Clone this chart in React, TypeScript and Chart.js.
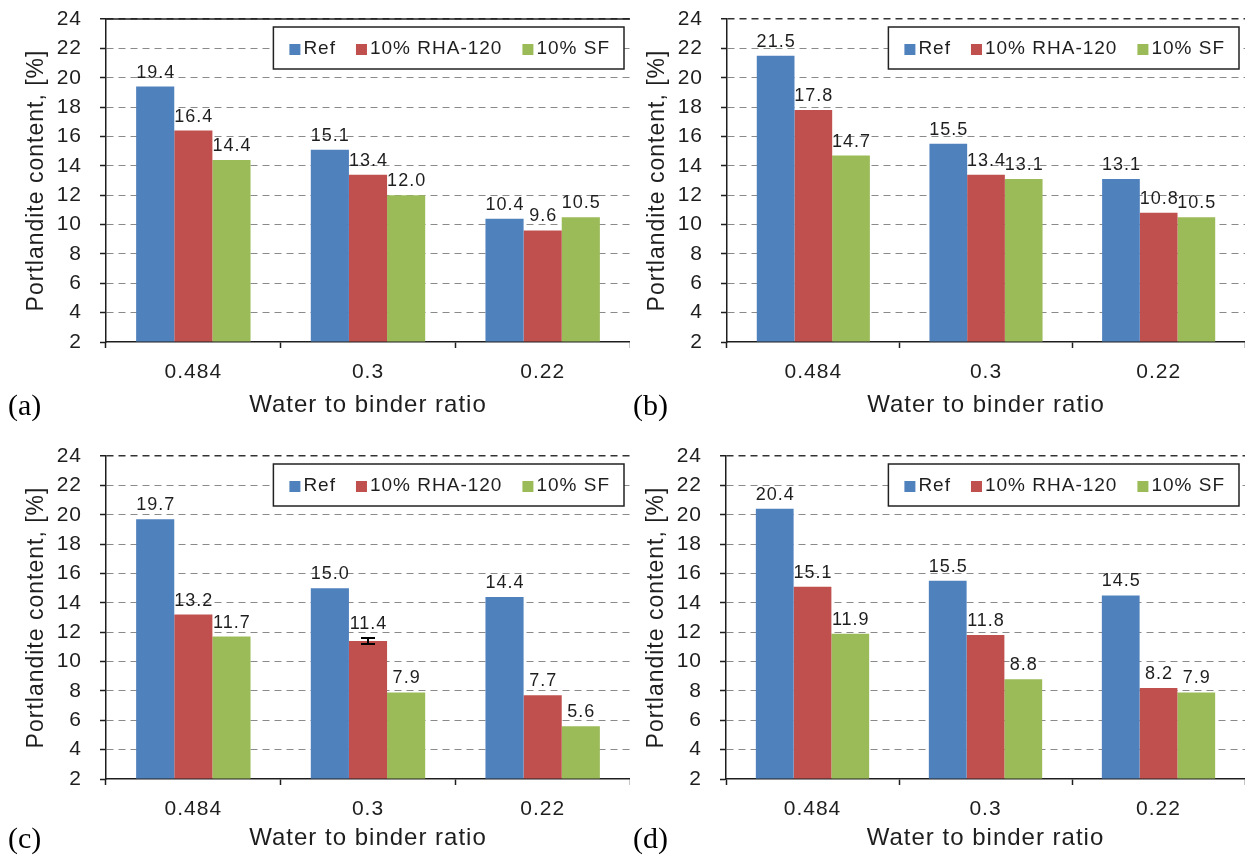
import React, { useEffect, useRef } from 'react';
import { Chart, registerables } from 'chart.js';

Chart.register(...registerables);

// ---- data ----
const CATEGORIES = ['0.484', '0.3', '0.22'];
const SERIES_NAMES = ['Ref', '10% RHA-120', '10% SF'];
const SERIES_COLORS = ['#4F81BD', '#C0504D', '#9BBB59'];
const X_TITLE = 'Water to binder ratio';
const Y_TITLE = 'Portlandite content, [%]';
const Y_MIN = 2;
const Y_MAX = 24;
const Y_STEP = 2;

const refA = [19.4, 15.1, 10.4];
const rhaA = [16.4, 13.4, 9.6];
const sfA = [14.4, 12.0, 10.5];

const refB = [21.5, 15.5, 13.1];
const rhaB = [17.8, 13.4, 10.8];
const sfB = [14.7, 13.1, 10.5];

const refC = [19.7, 15.0, 14.4];
const rhaC = [13.2, 11.4, 7.7];
const sfC = [11.7, 7.9, 5.6];
const rhaErrC = [0, 0.2, 0];

const refD = [20.4, 15.5, 14.5];
const rhaD = [15.1, 11.8, 8.2];
const sfD = [11.9, 8.8, 7.9];

// ---- layout ----
const FONT = '"Liberation Sans", Arial, sans-serif';
const INK = '#1e1e1e';
const PLOT_LEFT = 106;
const PLOT_TOP = 19;
const PLOT_BOTTOM = 342;

type Panel = {
  tag: string;
  left: number;
  top: number;
  width: number;
  height: number;
  tagLeft: number;
  tagY: number;
  solidTop: boolean;
  series: number[][];
  errors: (number[] | undefined)[];
};

const PANELS: Panel[] = [
  { tag: '(a)', left: 0, top: 0, width: 630, height: 425, tagLeft: 8, tagY: 405, solidTop: true, series: [refA, rhaA, sfA], errors: [undefined, undefined, undefined] },
  { tag: '(b)', left: 621, top: 0, width: 624, height: 425, tagLeft: 633, tagY: 405, solidTop: false, series: [refB, rhaB, sfB], errors: [undefined, undefined, undefined] },
  { tag: '(c)', left: 0, top: 437, width: 630, height: 421, tagLeft: 8, tagY: 838, solidTop: false, series: [refC, rhaC, sfC], errors: [undefined, rhaErrC, undefined] },
  { tag: '(d)', left: 620, top: 437, width: 625, height: 421, tagLeft: 633, tagY: 838, solidTop: false, series: [refD, rhaD, sfD], errors: [undefined, undefined, undefined] },
];

// Canvas text in the scales gets a little tracking, like the original Excel rendering.
const spacingPlugin = {
  id: 'textSpacing',
  beforeUpdate(chart: any) {
    chart.ctx.letterSpacing = '1px';
  },
  beforeDraw(chart: any) {
    chart.ctx.letterSpacing = '1px';
  },
};

// Solid frame line along the top of the plot area (panel a only).
const topFramePlugin = {
  id: 'topFrame',
  beforeDatasetsDraw(chart: any, _args: any, opts: any) {
    if (!opts || !opts.show) return;
    const { ctx, chartArea } = chart;
    ctx.save();
    ctx.strokeStyle = '#222';
    ctx.lineWidth = 1.5;
    ctx.beginPath();
    ctx.moveTo(chartArea.left, chartArea.top);
    ctx.lineTo(chartArea.right, chartArea.top);
    ctx.stroke();
    ctx.restore();
  },
};

// Error bars (I-beams) for datasets that carry an `errorBars` array.
const errorBarPlugin = {
  id: 'errorBars',
  afterDatasetsDraw(chart: any) {
    const { ctx } = chart;
    const y = chart.scales.y;
    chart.data.datasets.forEach((ds: any, i: number) => {
      if (!ds.errorBars) return;
      const meta = chart.getDatasetMeta(i);
      meta.data.forEach((el: any, j: number) => {
        const e = ds.errorBars[j];
        if (!e) return;
        const v = ds.data[j];
        const yTop = y.getPixelForValue(v + e);
        const yBot = y.getPixelForValue(v - e);
        ctx.save();
        ctx.strokeStyle = '#000';
        ctx.lineWidth = 2;
        ctx.beginPath();
        ctx.moveTo(el.x, yTop);
        ctx.lineTo(el.x, yBot);
        ctx.moveTo(el.x - 7, yTop);
        ctx.lineTo(el.x + 7, yTop);
        ctx.moveTo(el.x - 7, yBot);
        ctx.lineTo(el.x + 7, yBot);
        ctx.stroke();
        ctx.restore();
      });
    });
  },
};

// Value labels above each bar (above the error bar when there is one).
const valueLabelPlugin = {
  id: 'valueLabels',
  afterDatasetsDraw(chart: any) {
    const { ctx } = chart;
    const y = chart.scales.y;
    ctx.save();
    ctx.letterSpacing = '1px';
    ctx.font = `18px ${FONT}`;
    ctx.fillStyle = INK;
    ctx.textAlign = 'center';
    ctx.textBaseline = 'alphabetic';
    chart.data.datasets.forEach((ds: any, i: number) => {
      const meta = chart.getDatasetMeta(i);
      meta.data.forEach((el: any, j: number) => {
        const v = ds.data[j];
        const e = ds.errorBars ? ds.errorBars[j] : 0;
        const top = e ? y.getPixelForValue(v + e) : el.y;
        ctx.fillText(v.toFixed(1), el.x + 0.5, top - 9);
      });
    });
    ctx.restore();
  },
};

// Boxed legend in the upper right of the plot area.
const boxLegendPlugin = {
  id: 'boxLegend',
  afterDatasetsDraw(chart: any) {
    const { ctx, chartArea } = chart;
    const items = chart.data.datasets.map((ds: any) => ({ label: ds.label, color: ds.backgroundColor }));
    ctx.save();
    ctx.letterSpacing = '1px';
    ctx.font = `19px ${FONT}`;
    const sw = 11;
    const swGap = 3;
    const itemGap = 20;
    const padL = 16;
    const padR = 14;
    const widths = items.map((it: any) => ctx.measureText(it.label).width);
    let total = padL + padR + itemGap * (items.length - 1);
    widths.forEach((w: number) => (total += sw + swGap + w));
    const boxH = 42;
    const boxRight = chartArea.right - 6;
    const boxLeft = boxRight - total;
    const boxTop = chartArea.top + 8;
    ctx.fillStyle = '#fff';
    ctx.fillRect(boxLeft, boxTop, total, boxH);
    ctx.strokeStyle = '#222';
    ctx.lineWidth = 1.5;
    ctx.strokeRect(boxLeft, boxTop, total, boxH);
    const cy = boxTop + boxH / 2 + 1;
    let x = boxLeft + padL;
    ctx.textAlign = 'left';
    ctx.textBaseline = 'middle';
    items.forEach((it: any, k: number) => {
      ctx.fillStyle = it.color;
      ctx.fillRect(x, cy - 5, sw, sw);
      x += sw + swGap;
      ctx.fillStyle = INK;
      ctx.fillText(it.label, x, cy);
      x += widths[k] + itemGap;
    });
    ctx.restore();
  },
};

function buildConfig(p: Panel): any {
  const datasets = SERIES_NAMES.map((name, i) => ({
    label: name,
    data: p.series[i],
    backgroundColor: SERIES_COLORS[i],
    borderWidth: 0,
    base: Y_MIN,
    categoryPercentage: 0.655,
    barPercentage: 1,
    errorBars: p.errors[i],
  }));
  return {
    type: 'bar',
    data: { labels: CATEGORIES, datasets },
    options: {
      responsive: false,
      animation: false,
      devicePixelRatio: 1,
      layout: { padding: { left: 0, top: PLOT_TOP, right: 0, bottom: 0 } },
      plugins: {
        legend: { display: false },
        tooltip: { enabled: false },
        topFrame: { show: p.solidTop },
      },
      scales: {
        x: {
          type: 'category',
          grid: {
            offset: true,
            drawOnChartArea: false,
            drawTicks: true,
            tickLength: 6,
            tickColor: INK,
            tickWidth: 1.5,
          },
          border: { color: INK, width: 1.5 },
          ticks: { font: { size: 21, family: FONT }, color: INK, padding: 12 },
          title: {
            display: true,
            text: X_TITLE,
            font: { size: 24, family: FONT },
            color: INK,
            padding: { top: 0, bottom: 5 },
          },
          afterFit: (s: any) => {
            s.height = p.height - PLOT_BOTTOM;
          },
        },
        y: {
          min: Y_MIN,
          max: Y_MAX,
          ticks: { stepSize: Y_STEP, font: { size: 21, family: FONT }, color: INK, padding: 18 },
          grid: {
            color: (c: any) =>
              c.tick && c.tick.value === Y_MAX ? '#333' : c.tick && c.tick.value === Y_MIN ? 'rgba(0,0,0,0)' : '#8a8a8a',
            lineWidth: (c: any) => (c.tick && c.tick.value === Y_MAX ? 1.5 : 1),
            tickColor: INK,
            tickLength: 6,
            tickWidth: 1.5,
          },
          border: { color: INK, width: 1.5, dash: [7, 5] },
          title: {
            display: true,
            text: Y_TITLE,
            font: { size: 23, family: FONT },
            color: INK,
            padding: { top: 23, bottom: 0 },
          },
          afterFit: (s: any) => {
            s.width = PLOT_LEFT;
            // the tick labels fit inside the layout padding already
            s.paddingTop = 0;
            s.paddingBottom = 0;
          },
        },
      },
    },
    plugins: [spacingPlugin, topFramePlugin, errorBarPlugin, valueLabelPlugin, boxLegendPlugin],
  };
}

function PanelChart({ p }: { p: Panel }) {
  const canvasRef = useRef<HTMLCanvasElement>(null);
  useEffect(() => {
    const chart = new Chart(canvasRef.current as HTMLCanvasElement, buildConfig(p));
    return () => chart.destroy();
  }, [p]);
  return (
    <>
      <canvas
        ref={canvasRef}
        width={p.width}
        height={p.height}
        style={{ position: 'absolute', left: p.left, top: p.top, width: p.width, height: p.height }}
      />
      <div
        style={{
          position: 'absolute',
          left: p.tagLeft,
          top: p.tagY - 16,
          font: '30px "Liberation Serif", "Times New Roman", serif',
          lineHeight: '32px',
          color: '#000',
          whiteSpace: 'nowrap',
        }}
      >
        {p.tag}
      </div>
    </>
  );
}

export default function App() {
  return (
    <div
      style={{
        position: 'absolute',
        left: 0,
        top: 0,
        width: 1245,
        height: 855,
        overflow: 'hidden',
        background: '#fff',
      }}
    >
      {PANELS.map((p) => (
        <PanelChart key={p.tag} p={p} />
      ))}
    </div>
  );
}
